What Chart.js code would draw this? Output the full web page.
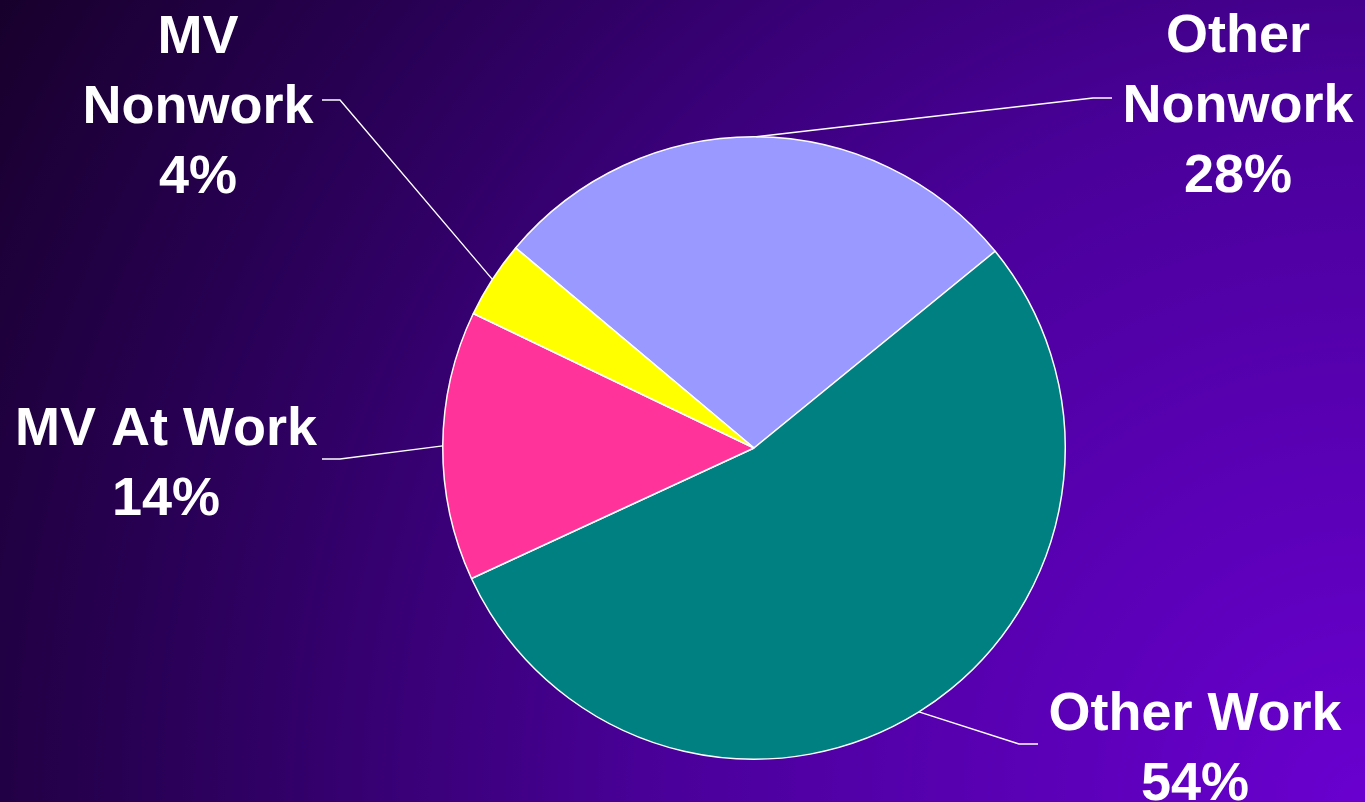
<!DOCTYPE html>
<html>
<head>
<meta charset="utf-8">
<script src="https://cdn.jsdelivr.net/npm/chart.js@4.4.1/dist/chart.umd.min.js"></script>
<style>
  html, body {
    margin: 0;
    padding: 0;
    width: 1365px;
    height: 802px;
    overflow: hidden;
    background: radial-gradient(circle at 100% 100%, #6a00d0 0px, #4a009a 700px, #2a0058 1200px, #17002a 1600px);
  }
  #wrap { position: relative; width: 1365px; height: 802px; }
</style>
</head>
<body>
<div id="wrap"><canvas id="pie"></canvas></div>
<script>
// chart data
const categories = ['Other Nonwork', 'Other Work', 'MV At Work', 'MV Nonwork'];
const shares = [28, 54, 14, 4];
const sliceColors = ['#9999ff', '#008080', '#ff3399', '#ffff00'];

// where each label sits and where its leader line bends
const labelLayout = [
    { lines: ['Other', 'Nonwork', '28%'], x: 1238, y: 52, elbow: [1093, 98], end: [1112, 98] },
    { lines: ['Other Work', '54%'], x: 1195, y: 730, elbow: [1019, 744], end: [1038, 744] },
    { lines: ['MV At Work', '14%'], x: 166, y: 445, elbow: [340, 459], end: [322, 459] },
    { lines: ['MV', 'Nonwork', '4%'], x: 198, y: 53, elbow: [340, 100], end: [322, 100] },
];

const calloutPlugin = {
    id: 'callouts',
    afterDatasetsDraw(chart) {
        const ctx = chart.ctx;
        const arcs = chart.getDatasetMeta(0).data;
        ctx.save();
        ctx.strokeStyle = '#ffffff';
        ctx.lineWidth = 1.4;
        ctx.fillStyle = '#ffffff';
        ctx.font = 'bold 54px "Liberation Sans", Arial, sans-serif';
        ctx.textAlign = 'center';
        ctx.textBaseline = 'alphabetic';
        arcs.forEach((arc, i) => {
            const lay = labelLayout[i];
            const p = arc.getProps(['x', 'y', 'startAngle', 'endAngle', 'outerRadius'], true);
            const mid = (p.startAngle + p.endAngle) / 2;
            const ax = p.x + Math.cos(mid) * p.outerRadius;
            const ay = p.y + Math.sin(mid) * p.outerRadius;
            ctx.beginPath();
            ctx.moveTo(ax, ay);
            ctx.lineTo(lay.elbow[0], lay.elbow[1]);
            ctx.lineTo(lay.end[0], lay.end[1]);
            ctx.stroke();
            lay.lines.forEach((t, k) => {
                ctx.fillText(t, lay.x, lay.y + k * 70);
            });
        });
        ctx.restore();
    }
};

new Chart(document.getElementById('pie'), {
    type: 'pie',
    data: {
        labels: categories,
        datasets: [{
            data: shares,
            backgroundColor: sliceColors,
            borderColor: '#ffffff',
            borderWidth: 1.5,
        }],
    },
    options: {
        responsive: true,
        maintainAspectRatio: false,
        animation: false,
        rotation: -50,
        layout: { padding: { left: 442, right: 299, top: 136, bottom: 42 } },
        plugins: {
            legend: { display: false },
            tooltip: { enabled: false },
        },
    },
    plugins: [calloutPlugin],
});
</script>
</body>
</html>
